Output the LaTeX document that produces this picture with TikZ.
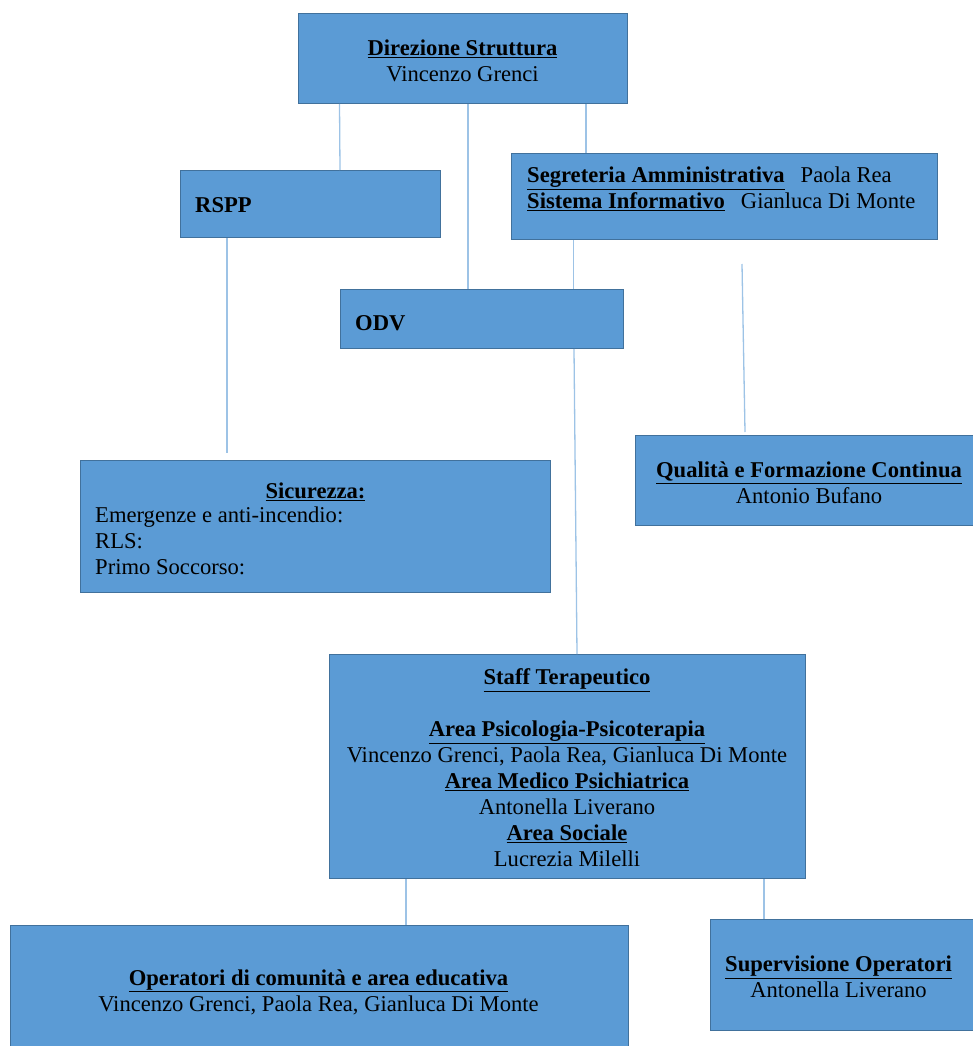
\documentclass[tikz,border=0pt]{standalone}
\usepackage{fontspec}
\setmainfont{Liberation Serif}
\definecolor{boxblue}{RGB}{91,155,213}
\definecolor{boxedge}{RGB}{65,113,156}
\definecolor{lineblue}{RGB}{157,195,230}
\newcommand{\ubf}[1]{\underline{\textbf{#1}}}
\begin{document}
\begin{tikzpicture}[x=1pt,y=-1pt,
  box/.style={draw=boxedge, fill=boxblue, line width=1pt, anchor=north west, inner sep=0pt},
  txt/.style={inner sep=0pt, font=\fontsize{22.6}{26}\selectfont},
  conn/.style={draw=lineblue, line width=1.3pt}]
\useasboundingbox (0,0) rectangle (972,1046);
% boxes
\node[box, minimum width=329pt, minimum height=90pt] (dir) at (298,13) {};
\node[box, minimum width=260pt, minimum height=67pt] (rspp) at (180,170) {};
\node[box, minimum width=426pt, minimum height=86pt] (seg) at (511,153) {};
\node[box, minimum width=283pt, minimum height=59pt] (odv) at (340,289) {};
\node[box, minimum width=470pt, minimum height=132pt] (sic) at (80,460) {};
\node[box, minimum width=338pt, minimum height=90pt] (qual) at (635,435) {};
\node[box, minimum width=476pt, minimum height=224pt] (staff) at (329,654) {};
\node[box, minimum width=618pt, minimum height=122pt] (oper) at (10,925) {};
\node[box, minimum width=263pt, minimum height=111pt] (sup) at (710,919) {};
% texts
\node[txt, align=center] (tdir) at (462.5,61) {\ubf{Direzione Struttura}\\Vincenzo Grenci};
\node[txt, anchor=west] (trspp) at (195,205) {\textbf{RSPP}};
\node[txt, align=left, anchor=west] (tseg) at (527,189) {\ubf{Segreteria Amministrativa}\hspace{16pt}Paola Rea\\\ubf{Sistema Informativo}\hspace{16pt}Gianluca Di Monte};
\node[txt, anchor=west] (todv) at (355,323) {\textbf{ODV}};
\node[txt] (tsic) at (315.5,492) {\ubf{Sicurezza:}};
\node[txt, align=left, anchor=west] (tsicl) at (95,541) {Emergenze e anti-incendio:\\RLS:\\Primo Soccorso:};
\node[txt, align=center] (tqual) at (809,483) {\ubf{Qualità e Formazione Continua}\\Antonio Bufano};
\node[txt, align=center] (tstaff) at (567,768) {\ubf{Staff Terapeutico}\\[26pt]\ubf{Area Psicologia-Psicoterapia}\\Vincenzo Grenci, Paola Rea, Gianluca Di Monte\\\ubf{Area Medico Psichiatrica}\\Antonella Liverano\\\ubf{Area Sociale}\\Lucrezia Milelli};
\node[txt, align=center] (toper) at (318.5,992) {\ubf{Operatori di comunità e area educativa}\\Vincenzo Grenci, Paola Rea, Gianluca Di Monte};
\node[txt, align=center] (tsup) at (838.5,977) {\ubf{Supervisione Operatori}\\Antonella Liverano};
% connectors
\coordinate (sictop) at (227,453);
\coordinate (qa) at (742,264);
\coordinate (qb) at (745,432);
\draw[conn] ([xshift=41.5]dir.south west) -- ([xshift=160]rspp.north west);
\draw[conn] ([xshift=170]dir.south west) -- ([xshift=128]odv.north west);
\draw[conn] ([xshift=288]dir.south west) -- ([xshift=75]seg.north west);
\draw[conn] ([xshift=62.5]seg.south west) -- ([xshift=233.5]odv.north west);
\draw[conn] ([xshift=234]odv.south west) -- ([xshift=248]staff.north west);
\draw[conn] ([xshift=47]rspp.south west) -- (sictop);
\draw[conn] (qa) -- (qb);
\draw[conn] ([xshift=77]staff.south west) -- ([xshift=396]oper.north west);
\draw[conn] ([xshift=435]staff.south west) -- ([xshift=54]sup.north west);
\end{tikzpicture}
\end{document}
